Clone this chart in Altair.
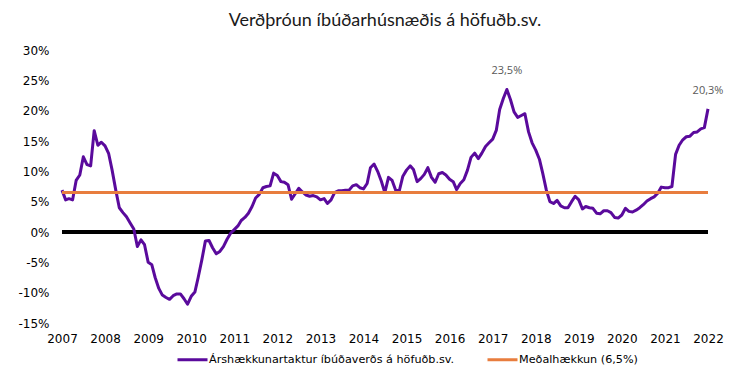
import altair as alt
import pandas as pd

# Chart text
TITLE = "Verðþróun íbúðarhúsnæðis á höfuðb.sv."
SERIES_LABEL = "Árshækkunartaktur íbúðaverðs á höfuðb.sv."
MEAN_LABEL = "Meðalhækkun (6,5%)"

# Average annual increase over the period (%)
MEAN_RATE = 6.5

# Axis ticks
YEARS = list(range(2007, 2023))
Y_TICKS = [-15, -10, -5, 0, 5, 10, 15, 20, 25, 30]

# 12-month change in capital-area housing prices (%), monthly from Jan 2007
ANNUAL_RATE = [
    # 2007
    6.9, 5.3, 5.5, 5.3, 8.5, 9.4, 12.4, 11.1, 10.9, 16.7, 14.3, 14.8,
    # 2008
    14.2, 12.9, 10.2, 6.9, 4.0, 3.2, 2.5, 1.5, 0.5, -2.4, -1.3, -2.1,
    # 2009
    -5.0, -5.4, -7.5, -9.3, -10.4, -10.8, -11.1, -10.5, -10.2, -10.2, -11.0, -11.9,
    # 2010
    -10.6, -9.9, -7.5, -4.6, -1.5, -1.4, -2.6, -3.6, -3.2, -2.4, -1.2, -0.2,
    # 2011
    0.4, 1.0, 1.9, 2.4, 3.1, 4.2, 5.6, 6.2, 7.3, 7.5, 7.6, 9.7,
    # 2012
    9.3, 8.3, 8.2, 7.8, 5.4, 6.3, 7.2, 6.6, 6.1, 5.9, 6.0, 5.8,
    # 2013
    5.3, 5.5, 4.7, 5.3, 6.5, 6.8, 6.8, 6.9, 6.9, 7.6, 7.8, 7.3,
    # 2014
    7.1, 8.0, 10.6, 11.2, 10.0, 8.4, 6.5, 9.0, 8.5, 6.9, 6.8, 9.2,
    # 2015
    10.2, 10.9, 10.3, 8.3, 8.8, 9.5, 10.6, 9.0, 8.2, 9.6, 9.8, 9.4,
    # 2016
    8.7, 8.3, 7.0, 8.0, 8.6, 10.2, 12.3, 13.0, 12.1, 13.0, 14.1, 14.7,
    # 2017
    15.3, 16.8, 20.2, 22.0, 23.5, 21.8, 19.8, 18.9, 19.2, 19.5, 16.5, 14.7,
    # 2018
    13.5, 12.0, 9.7, 6.9, 5.0, 4.7, 5.2, 4.3, 4.0, 4.0, 5.0, 5.9,
    # 2019
    5.3, 3.8, 4.2, 4.0, 3.9, 3.1, 3.0, 3.5, 3.5, 3.2, 2.4, 2.3,
    # 2020
    2.8, 3.9, 3.4, 3.3, 3.6, 4.0, 4.5, 5.1, 5.5, 5.8, 6.4, 7.4,
    # 2021
    7.3, 7.3, 7.5, 12.8, 14.3, 15.2, 15.7, 15.8, 16.4, 16.5, 17.0, 17.2,
    # 2022
    20.3,
]

PURPLE = "#5A0A9C"
ORANGE = "#E87D3E"
FONT = "DejaVu Sans"

months = pd.date_range("2007-01-01", periods=len(ANNUAL_RATE), freq="MS")

rows = []
for d, v in zip(months, ANNUAL_RATE):
    rows.append({"date": d, "value": v, "series": SERIES_LABEL})
for d in months:
    rows.append({"date": d, "value": MEAN_RATE, "series": MEAN_LABEL})
df = pd.DataFrame(rows)

# Labelled points: the 2017 peak and the latest value
peak_idx = max(range(len(ANNUAL_RATE)), key=lambda i: ANNUAL_RATE[i])
last_idx = len(ANNUAL_RATE) - 1
notes = pd.DataFrame({
    "date": [months[peak_idx], months[last_idx]],
    "value": [ANNUAL_RATE[peak_idx], ANNUAL_RATE[last_idx]],
})
notes["label"] = notes["value"].map(lambda v: f"{v:.1f}".replace(".", ",") + "%")

x_scale = alt.Scale(
    domain=[alt.DateTime(year=YEARS[0], month=1, date=1),
            alt.DateTime(year=YEARS[-1], month=1, date=1)],
    nice=False,
)
y_scale = alt.Scale(domain=[-15, 30], nice=False, zero=False)

x_axis = alt.Axis(
    values=[alt.DateTime(year=y, month=1, date=1) for y in YEARS],
    format="%Y",
    labelPadding=10,
    labelAlign="center",
)
y_axis = alt.Axis(
    values=Y_TICKS,
    labelExpr="datum.value + '%'",
    labelPadding=13,
)

legend = alt.Legend(
    title=None,
    orient="none",
    direction="horizontal",
    legendX=114,
    legendY=293,
    symbolType="stroke",
    symbolSize=900,
    symbolStrokeWidth=3,
    labelFont=FONT,
    labelFontSize=11.2,
    labelColor="#000000",
    labelOffset=0,
    columnPadding=26,
    labelLimit=400,
)
color_enc = alt.Color(
    "series:N",
    scale=alt.Scale(domain=[SERIES_LABEL, MEAN_LABEL], range=[PURPLE, ORANGE]),
    legend=legend,
)

zero_line = alt.Chart(df).mark_rule(color="#000000", strokeWidth=3).encode(
    y=alt.datum(0, scale=y_scale, axis=y_axis)
)


def series_line(label):
    return (
        alt.Chart(df)
        .transform_filter(alt.datum.series == label)
        .mark_line(strokeWidth=3, strokeCap="butt", strokeJoin="round")
        .encode(
            x=alt.X("date:T", title=None, scale=x_scale, axis=x_axis),
            y=alt.Y("value:Q", title=None, scale=y_scale, axis=y_axis),
            color=color_enc,
        )
    )


rate_line = series_line(SERIES_LABEL)
mean_line = series_line(MEAN_LABEL)

labels = alt.Chart(notes).mark_text(
    dy=-18, font="Open Sans", fontSize=11, color="#595959", baseline="middle"
).encode(
    x=alt.X("date:T", title=None, scale=x_scale, axis=x_axis),
    y=alt.Y("value:Q", title=None, scale=y_scale, axis=y_axis),
    text="label:N",
)

chart = (
    alt.layer(zero_line, rate_line, mean_line, labels)
    .properties(
        width=646,
        height=273,
        background="white",
        title=alt.TitleParams(
            TITLE, font="Lato", fontSize=18, fontWeight="normal",
            color="#1a1a1a", anchor="middle", offset=14,
        ),
        autosize=alt.AutoSizeParams(type="none"),
        padding={"left": 62, "top": 50, "right": 48, "bottom": 55},
    )
    .configure_view(strokeWidth=0)
    .configure_axis(
        labelOverlap=False,
        labelFlush=False,
        labelBound=False,
        grid=False,
        domain=False,
        ticks=False,
        labelFont=FONT,
        labelFontSize=12,
        labelColor="#000000",
    )
)

chart.save("out.html", embed_options={"renderer": "svg", "actions": False})
